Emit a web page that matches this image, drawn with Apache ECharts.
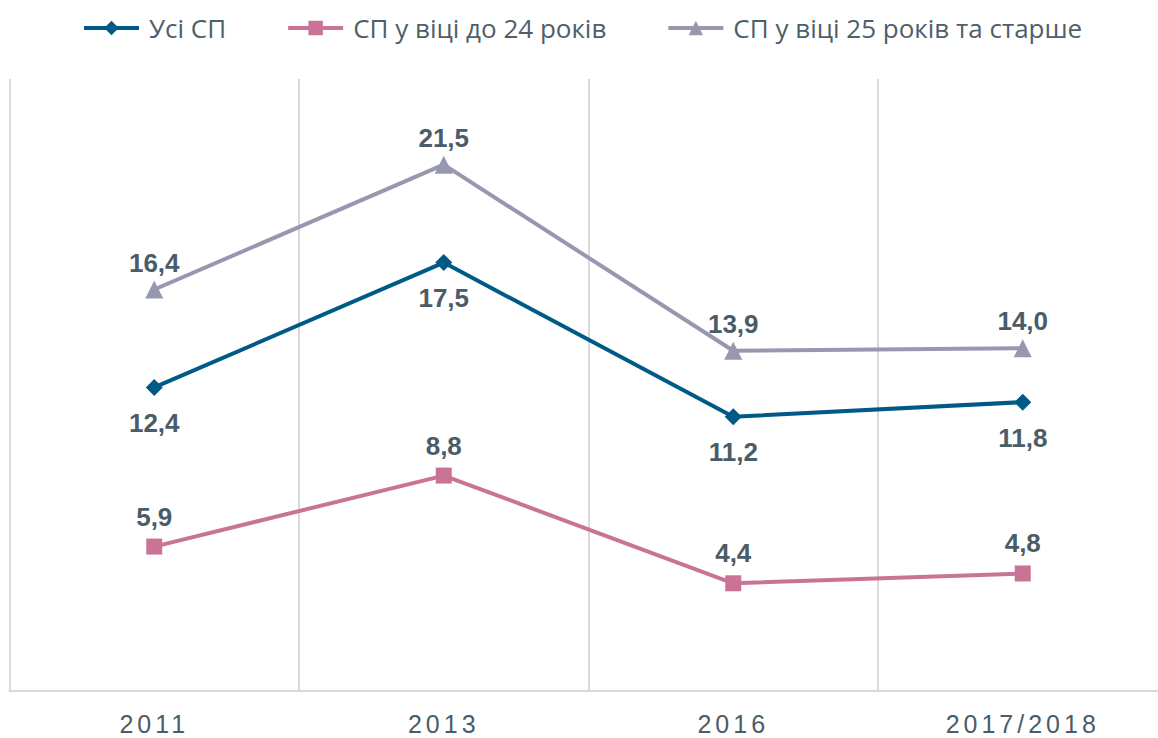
<!DOCTYPE html>
<html>
<head>
<meta charset="utf-8">
<style>
  html, body { margin: 0; padding: 0; background: #ffffff; overflow: hidden; }
  /* the plot runs a little past the right edge of the window */
  #chart { width: 1177px; height: 738px; }
  /* spaced-out year labels under the axis */
  #chart text[style*="25px"] { letter-spacing: 4px; }
</style>
<script src="https://cdn.jsdelivr.net/npm/echarts@6/dist/echarts.min.js"></script>
</head>
<body>
<div id="chart"></div>
<script>
// Survey years on the horizontal axis
const years = ['2011', '2013', '2016', '2017/2018'];

// Series names
const nameAll = 'Усі СП';
const nameYoung = 'СП у віці до 24 років';
const nameOlder = 'СП у віці 25 років та старше';

// Values, per cent
const valuesAll = [12.4, 17.5, 11.2, 11.8];
const valuesYoung = [5.9, 8.8, 4.4, 4.8];
const valuesOlder = [16.4, 21.5, 13.9, 14.0];

const textColor = '#4a5c68';
const gridColor = '#d9d9d9';

// Ukrainian decimal comma
const fmt = p => p.value.toFixed(1).replace('.', ',');

function lineSeries(name, data, color, symbol, symbolSize, labelPos, labelDist) {
  return {
    name: name,
    type: 'line',
    data: data,
    symbol: symbol,
    symbolSize: symbolSize,
    lineStyle: { color: color, width: 4 },
    itemStyle: { color: color },
    label: {
      show: true,
      position: labelPos,
      distance: labelDist,
      formatter: fmt,
      color: textColor,
      fontFamily: 'Liberation Sans, Arial, sans-serif',
      fontWeight: 'bold',
      fontSize: 26
    },
    emphasis: { disabled: true },
    animation: false
  };
}

const chart = echarts.init(document.getElementById('chart'), null, { renderer: 'svg' });

chart.setOption({
  backgroundColor: '#ffffff',
  animation: false,
  legend: {
    top: 10,
    left: 77,
    itemWidth: 55,
    itemHeight: 18,
    itemGap: 60,
    lineStyle: { width: 4 },
    textStyle: {
      color: '#4e5f6a',
      fontFamily: 'Open Sans, Noto Sans, sans-serif',
      fontSize: 26,
      padding: [0, 0, 0, 5]
    },
    data: [nameAll, nameYoung, nameOlder]
  },
  grid: {
    left: 9.5,
    right: 9.5,
    top: 79,
    bottom: 47,
    containLabel: false
  },
  xAxis: {
    type: 'category',
    data: years,
    boundaryGap: true,
    axisLine: { show: true, lineStyle: { color: gridColor, width: 2 } },
    axisTick: { show: false },
    splitLine: { show: true, lineStyle: { color: gridColor, width: 2 } },
    axisLabel: {
      color: textColor,
      fontFamily: 'Liberation Sans, Arial, sans-serif',
      fontSize: 25,
      margin: 20
    }
  },
  yAxis: {
    type: 'value',
    min: 0,
    max: 25,
    interval: 5,
    show: false,
    splitLine: { show: false }
  },
  series: [
    lineSeries(nameAll, valuesAll, '#005a87', 'diamond', 17, 'bottom', 14),
    lineSeries(nameYoung, valuesYoung, '#c97497', 'rect', 16, 'top', 9),
    lineSeries(nameOlder, valuesOlder, '#9798b0', 'triangle', 18, 'top', 5)
  ]
});
</script>
</body>
</html>
